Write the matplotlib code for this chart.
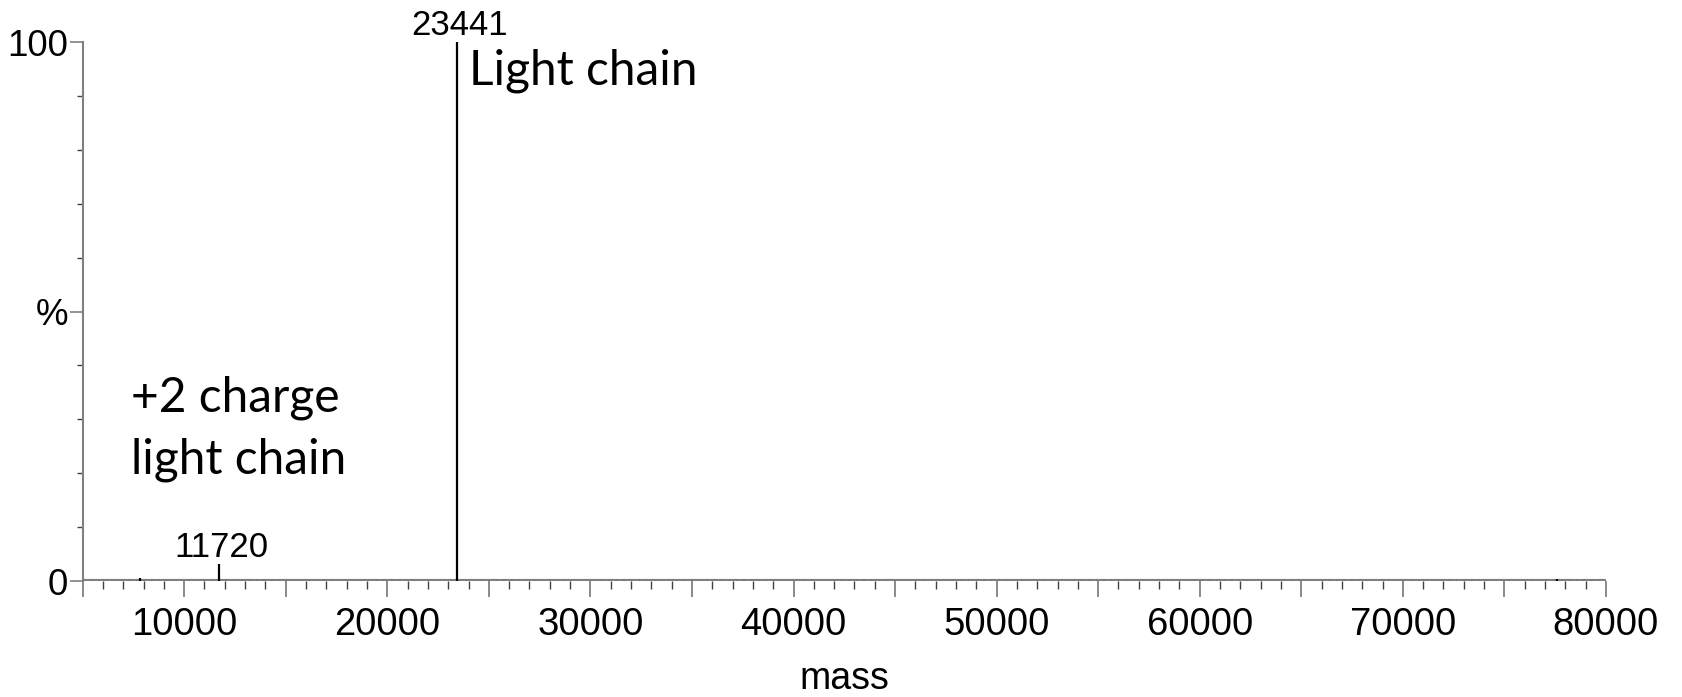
import matplotlib
matplotlib.use("Agg")
import matplotlib.pyplot as plt
from matplotlib.ticker import MultipleLocator, FixedLocator

# deconvoluted spectrum peaks (mass, % intensity)
peak_mass = [7830, 11720, 23441, 77600]
peak_int = [0.5, 3.2, 100, 0.3]

# peaks that get a mass label
label_mass = [11720, 23441]
label_int = [3.2, 100]

x_min, x_max = 5000, 80000
x_labels = [10000, 20000, 30000, 40000, 50000, 60000, 70000, 80000]

grey = "#808080"

fig = plt.figure(figsize=(16.82, 6.97), dpi=100)
ax = fig.add_axes([0.0491, 0.1664, 0.9057, 0.7733])

# baseline + stick peaks
ax.plot([x_min, x_max], [0, 0], color=grey, lw=3, solid_capstyle="butt", zorder=2)
ax.plot([x_min, x_max], [0, 0], color="black", lw=0.9, ls=(0, (1, 5)), zorder=3)
ax.vlines(peak_mass, 0, peak_int, color="black", lw=1.6, zorder=4)

for m, v in zip(label_mass, label_int):
    ax.annotate(str(m), xy=(m, v), xytext=(1.5, 5), textcoords="offset points",
                ha="center", va="baseline", fontsize=25, family="Liberation Sans")

ax.text(24000, 92.2, "Light chain", fontsize=34.5, family="Lato", va="baseline")
ax.text(7400, 31.4, "+2 charge", fontsize=34.5, family="Lato", va="baseline")
ax.text(7400, 19.9, "light chain", fontsize=34.5, family="Lato", va="baseline")

ax.set_xlim(x_min, x_max)
ax.set_ylim(0, 100)

for s in ["top", "right", "bottom"]:
    ax.spines[s].set_visible(False)
ax.spines["left"].set_color(grey)
ax.spines["left"].set_linewidth(1.5)

ax.xaxis.set_major_locator(MultipleLocator(5000))
ax.xaxis.set_minor_locator(MultipleLocator(1000))
ax.set_xticklabels([str(int(t)) if t in x_labels else "" for t in ax.get_xticks()])
ax.tick_params(axis="x", which="major", length=11.5, width=1.3, color=grey, pad=7,
               labelsize=27.5)
ax.tick_params(axis="x", which="minor", length=5.8, width=1.0, color="#404040")

ax.yaxis.set_major_locator(FixedLocator([0, 50, 100]))
ax.set_yticklabels(["0", "%", "100"])
ax.yaxis.set_minor_locator(MultipleLocator(10))
ax.tick_params(axis="y", which="major", length=9.5, width=1.2, color=grey, pad=1,
               labelsize=26.5)
ax.tick_params(axis="y", which="minor", length=4.5, width=1.0, color="#404040")

for lab in ax.get_xticklabels() + ax.get_yticklabels():
    lab.set_family("Liberation Sans")

ax.set_xlabel("mass", fontsize=27, family="Liberation Sans", labelpad=13.5)

fig.savefig("out.png", dpi=100)
